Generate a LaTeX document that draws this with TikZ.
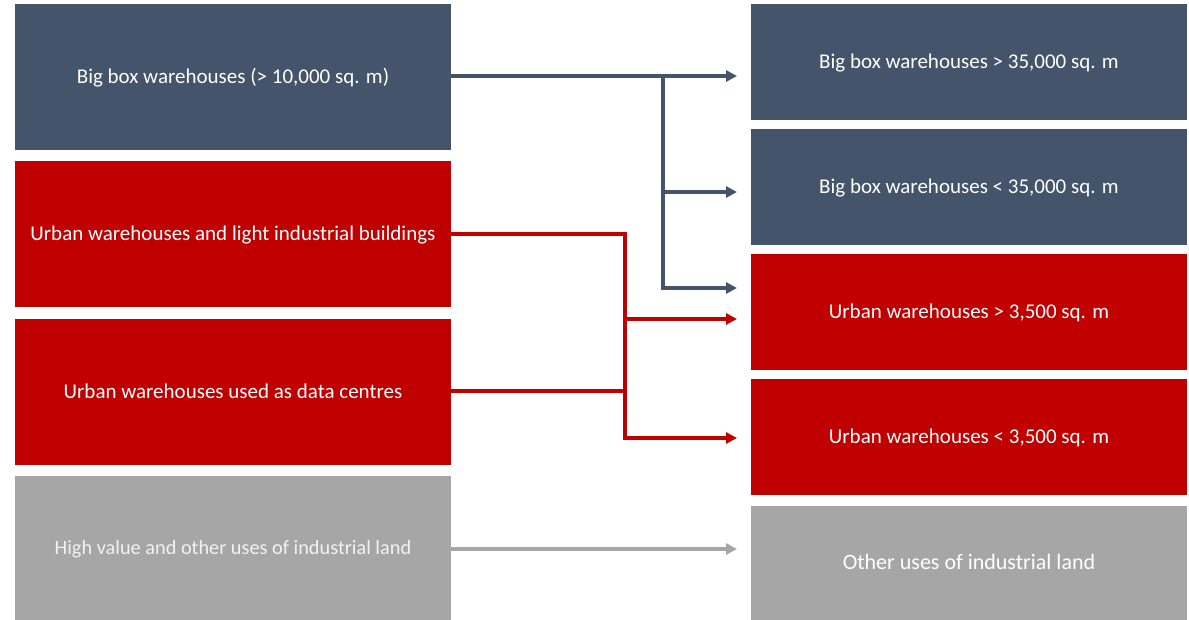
\documentclass[tikz,border=0pt]{standalone}
\usepackage{fontspec}
\setmainfont{Carlito}
\usetikzlibrary{arrows.meta}
\definecolor{slate}{HTML}{44546A}
\definecolor{crim}{HTML}{C00000}
\definecolor{greyc}{HTML}{A6A6A6}
\definecolor{paletext}{HTML}{F2F2F2}
\tikzset{
  box/.style={inner sep=0pt, text=white, font=\fontsize{21}{25}\selectfont, align=center, text height=16pt, text depth=3pt},
  lbox/.style={box, minimum width=436pt},
  rbox/.style={box, minimum width=436pt, minimum height=116pt},
  conn/.style={line width=3.2pt, -{Triangle[length=11pt,width=11pt]}},
  plain/.style={line width=3.2pt},
}
\begin{document}
\begin{tikzpicture}[x=1pt,y=-1pt]
\useasboundingbox (0,0) rectangle (1189,620);
% left column
\node[lbox, fill=slate, minimum height=146pt] (L1) at (233,77) {Big box warehouses (> 10,000 sq. m)};
\node[lbox, fill=crim, minimum height=146pt] (L2) at (233,234) {Urban warehouses and light industrial buildings};
\node[lbox, fill=crim, minimum height=146pt] (L3) at (233,392) {Urban warehouses used as data centres};
\node[lbox, fill=greyc, minimum height=144pt, text=paletext, font=\fontsize{20.3}{24}\selectfont] (L4) at (233,548) {High value and other uses of industrial land};
% right column
\node[rbox, fill=slate] (R1) at (969,62) {Big box warehouses > 35,000 sq. m};
\node[rbox, fill=slate] (R2) at (969,187) {Big box warehouses < 35,000 sq. m};
\node[rbox, fill=crim] (R3) at (969,312) {Urban warehouses > 3,500 sq. m};
\node[rbox, fill=crim] (R4) at (969,437) {Urban warehouses < 3,500 sq. m};
\node[box, fill=greyc, minimum width=436pt, minimum height=114pt, font=\fontsize{22}{26}\selectfont] (R5) at (969,563) {Other uses of industrial land};
% connector coordinates
\coordinate (a1) at (737,76);
\coordinate (a2) at (737,192);
\coordinate (a3) at (737,288);
\coordinate (a4) at (737,319);
\coordinate (a5) at (737,438);
\coordinate (a6) at (737,549);
\coordinate (j1) at (663,76);
\coordinate (j2) at (625,234);
\coordinate (j3) at (625,391);
\coordinate (j4) at (625,319);
% dark connectors
\draw[conn, slate] (L1.east |- a1) -- (a1);
\draw[conn, slate] (j1) |- (a2);
\draw[conn, slate] (j1) |- (a3);
% red connectors
\draw[plain, crim] (L2.east) -- (j2) -- (j3);
\draw[conn, crim] (j3) |- (a5);
\draw[plain, crim] (L3.east |- j3) -- (j3);
\draw[conn, crim] (j4) -- (a4);
% grey connector
\draw[conn, greyc] (L4.east |- a6) -- (a6);
\end{tikzpicture}
\end{document}
